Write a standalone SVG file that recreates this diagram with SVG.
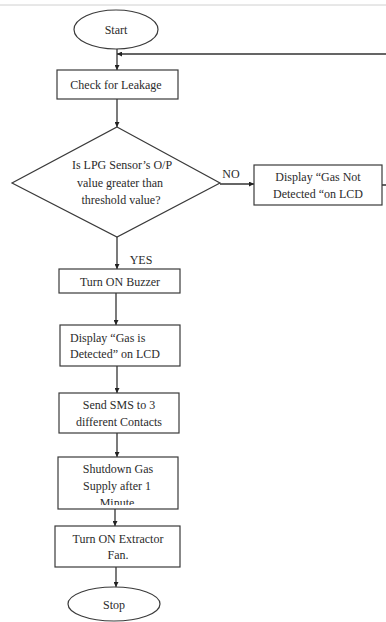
<svg xmlns="http://www.w3.org/2000/svg" width="386" height="622" viewBox="0 0 386 622">
<style>
.shape{fill:#fff;stroke:#3a3a3a;stroke-width:1.2}
.conn{fill:none;stroke:#333;stroke-width:1.3}
text{font-family:"Liberation Serif","Times New Roman",serif;font-size:12px;fill:#2b2b2b}
.c{text-anchor:middle}
</style>
<defs>
<marker id="ah" viewBox="0 0 10 10" refX="10" refY="5" markerWidth="5" markerHeight="5" orient="auto" markerUnits="userSpaceOnUse">
<path d="M0,0 L10,5 L0,10 z" fill="#222"/>
</marker>
<clipPath id="clipShut"><rect x="58" y="457" width="120" height="48"/></clipPath>
</defs>
<rect width="386" height="622" fill="#fff"/>
<line x1="0" y1="5" x2="386" y2="5" stroke="#d0d0d0" stroke-width="1"/>
<g id="connectors">
<line class="conn" x1="117" y1="49" x2="117" y2="70" marker-end="url(#ah)"/>
<line class="conn" x1="117" y1="99" x2="117" y2="127" marker-end="url(#ah)"/>
<line class="conn" x1="220" y1="184" x2="254" y2="184" marker-end="url(#ah)"/>
<path class="conn" d="M382,185 H392 V54 H117" marker-end="url(#ah)"/>
<line class="conn" x1="117" y1="237" x2="117" y2="269" marker-end="url(#ah)"/>
<line class="conn" x1="116" y1="293" x2="116" y2="325" marker-end="url(#ah)"/>
<line class="conn" x1="117" y1="366" x2="117" y2="393" marker-end="url(#ah)"/>
<line class="conn" x1="117" y1="433" x2="117" y2="457" marker-end="url(#ah)"/>
<line class="conn" x1="115" y1="509" x2="115" y2="526" marker-end="url(#ah)"/>
<line class="conn" x1="116" y1="567" x2="116" y2="587" marker-end="url(#ah)"/>
<text x="231" y="178" class="c">NO</text>
<text x="141" y="264" class="c">YES</text>
</g>
<g id="start">
<ellipse class="shape" cx="116" cy="29.5" rx="42" ry="19.5"/>
<text x="116" y="34" class="c">Start</text>
</g>
<g id="check">
<rect class="shape" x="57" y="70" width="121" height="29"/>
<text x="116" y="89" class="c">Check for Leakage</text>
</g>
<g id="decision">
<polygon class="shape" points="117,127 220,183 117,237 12,183"/>
<text x="122" y="169" class="c">Is LPG Sensor’s O/P</text>
<text x="120" y="187" class="c">value greater than</text>
<text x="121" y="204" class="c">threshold value?</text>
</g>
<g id="notdetected">
<rect class="shape" x="254" y="165" width="128" height="40"/>
<text x="318" y="181" class="c">Display “Gas Not</text>
<text x="318" y="198" class="c">Detected “on LCD</text>
</g>
<g id="buzzer">
<rect class="shape" x="59" y="269" width="121" height="24"/>
<text x="120" y="286" class="c">Turn ON Buzzer</text>
</g>
<g id="detected">
<rect class="shape" x="60" y="325" width="120" height="41"/>
<text x="70" y="342">Display “Gas is</text>
<text x="70" y="358">Detected” on LCD</text>
</g>
<g id="sms">
<rect class="shape" x="59" y="393" width="120" height="40"/>
<text x="119" y="409" class="c">Send SMS to 3</text>
<text x="119" y="426" class="c">different Contacts</text>
</g>
<g id="shutdown">
<rect class="shape" x="58" y="457" width="120" height="52"/>
<text x="118" y="473" class="c">Shutdown Gas</text>
<text x="117" y="490" class="c">Supply after 1</text>
<text x="117" y="507" class="c" clip-path="url(#clipShut)">Minute</text>
</g>
<g id="extractor">
<rect class="shape" x="55" y="526" width="125" height="41"/>
<text x="118" y="543" class="c">Turn ON Extractor</text>
<text x="118" y="559" class="c">Fan.</text>
</g>
<g id="stop">
<ellipse class="shape" cx="114" cy="604" rx="46" ry="17"/>
<text x="114" y="609" class="c">Stop</text>
</g>
</svg>
